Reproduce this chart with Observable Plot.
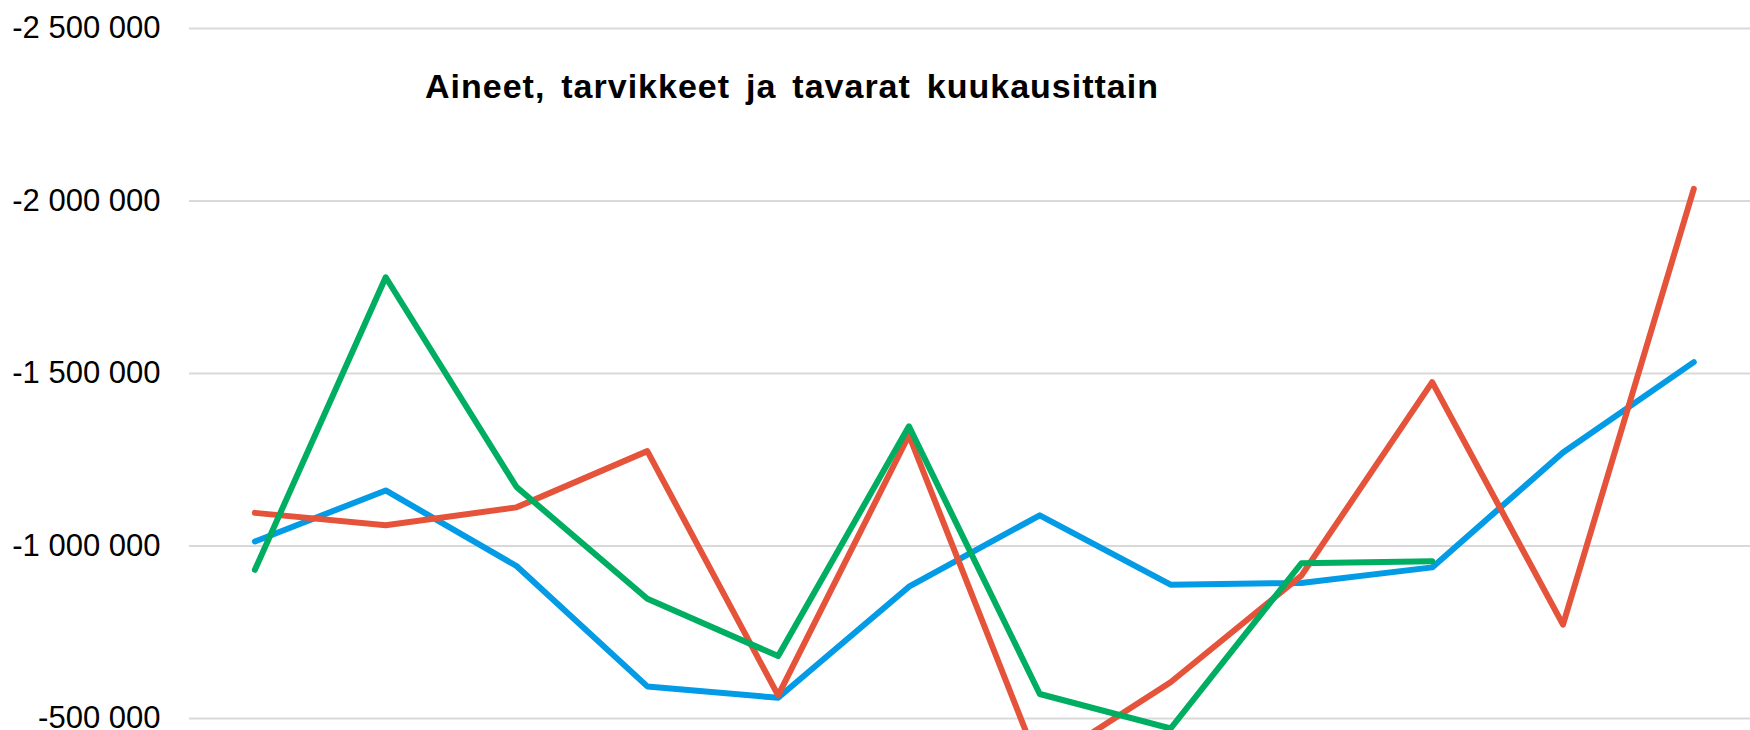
<!DOCTYPE html>
<html>
<head>
<meta charset="utf-8">
<script src="https://cdn.jsdelivr.net/npm/d3@7"></script>
<script src="https://cdn.jsdelivr.net/npm/@observablehq/plot@0.6"></script>
<style>
  html, body { margin: 0; padding: 0; overflow: hidden; background: #fff; }
  #wrap { position: relative; width: 1750px; height: 730px; overflow: hidden; }
  #title {
    position: absolute; left: 425px; top: 69px;
    font-family: "Liberation Sans", Arial, sans-serif; font-weight: bold;
    font-size: 34px; line-height: 34px; letter-spacing: 1px; word-spacing: 5.5px;
    white-space: nowrap; color: #000; z-index: 2;
  }
  #chart { position: absolute; left: 0; top: 0; }
</style>
</head>
<body>
<div id="wrap">
  <div id="chart"></div>
  <div id="title">Aineet, tarvikkeet ja tavarat kuukausittain</div>
</div>
<script>
// Categories (months)
const months = ["tammi", "helmi", "maalis", "huhti", "touko", "kesä", "heinä", "elo", "syys", "loka", "marras", "joulu"];
// Series names (legend not visible in the cropped reference)
const seriesNames = ["Sarja 1", "Sarja 2", "Sarja 3"];
const seriesColors = ["#039BE5", "#E4533A", "#00AE62"];
// Series values
const blueValues  = [-1013000, -1161000, -942000, -593000, -560000, -882000, -1089000, -888000, -893000, -938000, -1271000, -1533000];
const redValues   = [-1096000, -1060000, -1112000, -1275000, -567000, -1321000, -361000, -605000, -914000, -1475000, -772000, -2035000];
const greenValues = [-931000, -1779000, -1171000, -847000, -681000, -1347000, -571000, -471000, -950000, -956000, null, null];
// Y tick values
const yTicks = [-2500000, -2000000, -1500000, -1000000, -500000];

const allSeries = [blueValues, redValues, greenValues];
const data = [];
allSeries.forEach((vals, i) => {
  vals.forEach((v, j) => data.push({ series: seriesNames[i], month: months[j], value: v }));
});

const fmt = v => (v < 0 ? "-" : "") + d3.format(",")(Math.abs(v)).replace(/,/g, "\u00a0");

const chart = Plot.plot({
  width: 1750,
  height: 730,
  marginLeft: 189,
  marginRight: 0,
  marginTop: 0,
  marginBottom: 0,
  style: { fontFamily: "'Liberation Sans', Arial, sans-serif", fontSize: "31px", background: "#fff", color: "#000" },
  x: { type: "point", domain: months, range: [254.4, 1693.3], padding: 0, round: false, axis: null },
  y: { domain: [-2500000, 0], range: [28, 890.5], axis: null },
  color: { domain: seriesNames, range: seriesColors },
  marks: [
    Plot.ruleY(yTicks, { stroke: "#d9d9d9", strokeWidth: 2 }),
    Plot.axisY(yTicks, { anchor: "left", label: null, tickSize: 0, tickPadding: 29, tickFormat: fmt, fill: "#000", fontSize: 31 }),
    Plot.line(data, {
      x: "month", y: "value", z: "series", stroke: "series",
      strokeWidth: 6, strokeLinejoin: "round", strokeLinecap: "round", clip: "frame"
    })
  ]
});
document.getElementById("chart").appendChild(chart);
</script>
</body>
</html>
